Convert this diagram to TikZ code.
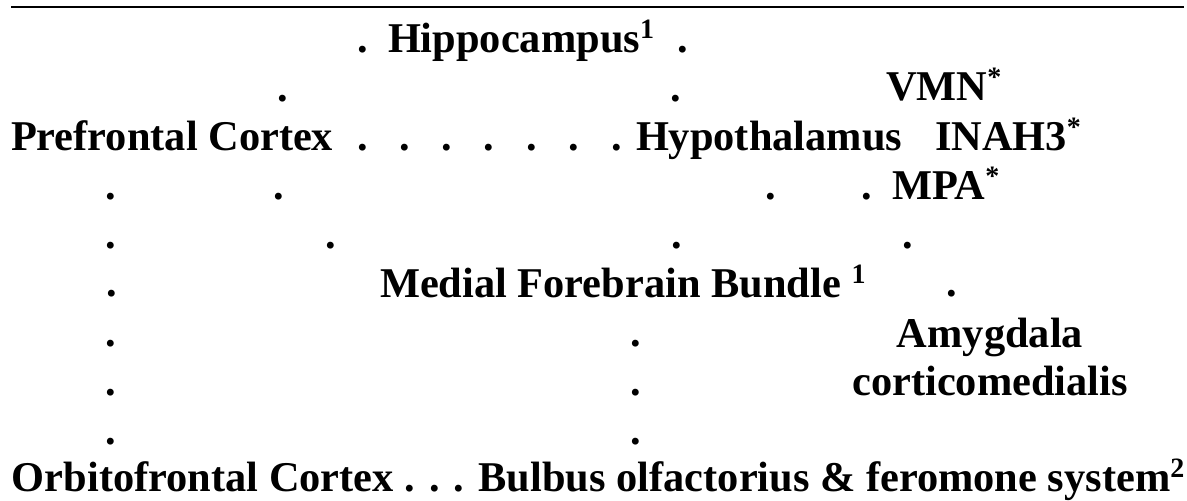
\documentclass[tikz,border=0pt]{standalone}
\usepackage{fontspec}
\setmainfont{Liberation Serif}
\newcommand{\supmark}[1]{\raisebox{0.31em}{\fontsize{28}{30}\selectfont #1}}
\tikzset{
  lbl/.style={inner sep=0pt, outer sep=0pt, anchor=base west, font=\fontsize{42.4}{50}\selectfont\bfseries},
  lblc/.style={lbl, anchor=base},
  dotmark/.style={inner sep=0pt, outer sep=0pt, anchor=base, font=\fontsize{42.4}{50}\selectfont\bfseries},
}
\begin{document}
\begin{tikzpicture}[x=1pt,y=-1pt]
\useasboundingbox (0,0) rectangle (1187,501);
% top rule
\coordinate (ruleL) at (11,7);
\coordinate (ruleR) at (1184,7);
\draw[line width=1.4pt] (ruleL) -- (ruleR);
% labels
\node[lbl] (hip) at (388,52) {Hippocampus\supmark{1}};
\node[lbl] (vmn) at (886,100) {VMN\supmark{*}};
\node[lbl] (pfc) at (11,150) {Prefrontal Cortex};
\node[lbl] (hyp) at (636,150) {Hypothalamus};
\node[lbl] (inah) at (935,150) {INAH3\supmark{*}};
\node[lbl] (mpa) at (892,199) {MPA\supmark{*}};
\node[lbl] (mfb) at (380,297) {Medial Forebrain Bundle \supmark{1}};
\node[lblc] (amy) at (990,347) {Amygdala};
\node[lblc] (cort) at (990,395) {corticomedialis};
\node[lbl] (ofc) at (12,491) {Orbitofrontal Cortex . . . Bulbus olfactorius \& feromone system\supmark{2}};
% dots
\foreach \x/\y [count=\i] in {363/52, 683/52,
  283/101, 676/101,
  363/150, 405/150, 447/150, 489/150, 532/150, 574/150, 617/150,
  111/199, 279/199, 771/199, 867/199,
  111/248, 331/248, 677/248, 908/248,
  112/296, 952/296,
  111/346, 636/346,
  111/395, 636/395,
  111/444, 636/444}
  \node[dotmark] (dot\i) at (\x,\y) {.};
\end{tikzpicture}
\end{document}
